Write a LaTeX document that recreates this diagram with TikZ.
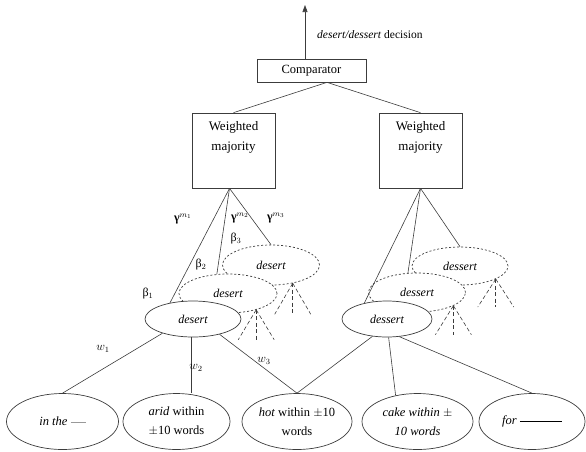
\documentclass[tikz,border=0pt]{standalone}
\usepackage{amsmath}
\usepackage{fontspec}
\setmainfont{Liberation Serif}
\usepackage{xcolor}
\usepackage{tikz}
\usetikzlibrary{arrows.meta,shapes.geometric}
\definecolor{inkgray}{RGB}{60,60,60}

\begin{document}
\begin{tikzpicture}[x=1pt,y=-1pt,
  box/.style={draw=inkgray,line width=0.7pt,inner sep=0pt},
  word/.style={ellipse,draw=inkgray,line width=0.7pt,fill=white,inner sep=0pt,minimum height=36pt,font=\fontsize{12}{14}\selectfont\itshape},
  ghost/.style={word,dash pattern=on 2pt off 2pt},
  leaf/.style={ellipse,draw=inkgray,line width=0.7pt,inner sep=0pt,minimum height=56pt,align=center,font=\fontsize{12.5}{19}\selectfont},
  edge/.style={line width=0.6pt,draw=inkgray},
  tree/.style={line width=0.6pt,draw=inkgray,dash pattern=on 4pt off 2.5pt},
  lab/.style={inner sep=0pt,font=\fontsize{12}{14}\selectfont}
]
\useasboundingbox (0,0) rectangle (586,451);

% top of the tree
\node[box,minimum width=109pt,minimum height=23pt,font=\fontsize{12.5}{14}\selectfont] (cmp) at (311.5,70.5) {Comparator};
\coordinate (out) at (305,5);
\node[lab,anchor=west,font=\fontsize{11.5}{13}\selectfont] (dec) at (317,35) {\textit{desert/dessert} decision};
\node[box,minimum width=83pt,minimum height=75pt,
  label={[anchor=north,align=center,yshift=-5pt,font=\fontsize{13}{20}\selectfont]north:Weighted\\majority}] (wl) at (233.5,150.5) {};
\node[box,minimum width=83pt,minimum height=75pt,
  label={[anchor=north,align=center,yshift=-5pt,font=\fontsize{13}{20}\selectfont]north:Weighted\\majority}] (wr) at (420.5,150.5) {};
\coordinate (fl) at ([xshift=-4pt]wl.south);
\coordinate (fr) at (wr.south);

% left stack: desert
\node[ghost,minimum width=97pt,minimum height=40pt] (dl3) at (271,265) {desert};
\foreach \dx in {-18,0,18} \draw[tree] (dl3.-40) -- ++(\dx,31);
\node[ghost,minimum width=98pt,minimum height=39pt] (dl2) at (228,293.5) {desert};
\foreach \dx in {-18,0,18} \draw[tree] (dl2.-30) -- ++(\dx,30);
\node[word,minimum width=96pt] (dl1) at (193,319) {desert};

% right stack: dessert
\node[ghost,minimum width=96pt,minimum height=38pt] (dr3) at (460,266) {dessert};
\foreach \dx in {-18,0,18} \draw[tree] (dr3.-20) -- ++(\dx,28);
\node[ghost,minimum width=97pt,minimum height=39pt] (dr2) at (417,292.5) {dessert};
\foreach \dx in {-18,0,18} \draw[tree] (dr2.-20) -- ++(\dx,29);
\node[word,minimum width=90pt] (dr1) at (387,319) {dessert};

% context words
\node[leaf,minimum width=112pt] (it) at (62.5,421.5) {\textit{in the} \textcolor{black!40}{\rule[3pt]{15pt}{0.8pt}}};
\node[leaf,minimum width=107pt] (ar) at (176.5,421.5) {\textit{arid} within\\\(\pm\)10 words};
\node[leaf,minimum width=110pt] (ht) at (297,421.5) {\textit{hot} within \(\pm\)10\\words};
\node[leaf,minimum width=111pt,font=\fontsize{12.5}{19}\selectfont\itshape] (ck) at (417.5,421.5) {cake within \(\pm\)\\10 words};
\node[leaf,minimum width=106pt] (fo) at (532,421.5) {\textit{for} \rule[3pt]{42pt}{0.9pt}};

% connectors
\draw[edge,-{Triangle[length=7pt,width=5pt]}] ([xshift=-6.5pt]cmp.north) -- (out);
\draw[edge] ([xshift=15.5pt]cmp.south) -- (wl.north);
\draw[edge] ([xshift=15.5pt]cmp.south) -- (wr.north);
\draw[edge] (fl) -- (dl1.145);
\draw[edge] (fl) -- (dl2.120);
\draw[edge] (fl) -- (dl3.north);
\draw[edge] (fr) -- (dr1.145);
\draw[edge] (fr) -- (dr2.115);
\draw[edge] (fr) -- (dr3.north);
\draw[edge] (dl1.-155) -- (it.north);
\draw[edge] (dl1.-95) -- (dl1.-95 |- ar.north);
\draw[edge] (dl1.-30) -- (ht.north);
\draw[edge] (dr1.-130) -- (ht.north);
\draw[edge] (dr1.-85) -- (ck.130);
\draw[edge] (dr1.-55) -- (fo.north);

% weights
\node[lab] (g1) at (183,219) {{\bfseries γ}\(^{m_1}\)};
\node[lab] (g2) at (240,218) {{\bfseries γ}\(^{m_2}\)};
\node[lab] (g3) at (276,218) {{\bfseries γ}\(^{m_3}\)};
\node[lab] (b3) at (236,239) {β\(_3\)};
\node[lab] (b2) at (201,265) {β\(_2\)};
\node[lab] (b1) at (148,294) {β\(_1\)};
\node[lab] (w1) at (103,349) {\(w_1\)};
\node[lab] (w2) at (196,368) {\(w_2\)};
\node[lab] (w3) at (264,361) {\(w_3\)};
\end{tikzpicture}
\end{document}
